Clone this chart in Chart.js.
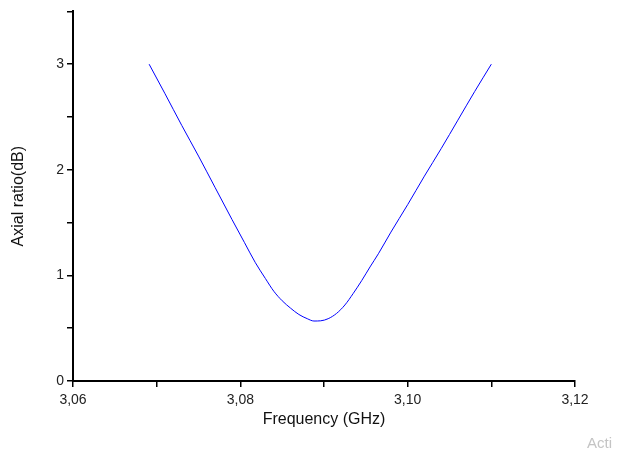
<!DOCTYPE html>
<html>
<head>
<meta charset="utf-8">
<script src="https://cdn.jsdelivr.net/npm/chart.js@4/dist/chart.umd.min.js"></script>
<style>
  html, body { margin: 0; padding: 0; background: #fff; overflow: hidden; }
  .chart-container { position: relative; width: 618px; height: 454px; }
</style>
</head>
<body>
<div class="chart-container">
  <canvas id="chart" width="618" height="454"></canvas>
</div>
<script>
// frequency (GHz) and axial ratio (dB)
const frequency = [
  3.0691, 3.0710, 3.0730, 3.0750, 3.0770, 3.0790, 3.0805, 3.0818, 3.0830,
  3.0840, 3.0850, 3.0860, 3.0870, 3.0880, 3.0888, 3.0896, 3.0905, 3.0915,
  3.0925, 3.0935, 3.0945, 3.0955, 3.0965, 3.0980, 3.1000, 3.1020, 3.1040,
  3.1060, 3.1080, 3.1100
];
const axialRatio = [
  3.00, 2.72, 2.42, 2.13, 1.83, 1.53, 1.31, 1.12, 0.97,
  0.85, 0.76, 0.69, 0.63, 0.59, 0.568, 0.57, 0.59, 0.64,
  0.72, 0.83, 0.95, 1.08, 1.205, 1.41, 1.67, 1.94, 2.20,
  2.47, 2.74, 3.00
];
const xTickLabels = ['3,06', '3,08', '3,10', '3,12'];
const yTickLabels = ['0', '1', '2', '3'];

const points = frequency.map((f, i) => ({ x: f, y: axialRatio[i] }));

const watermark = {
  id: 'watermark',
  afterDraw(chart) {
    const ctx = chart.ctx;
    ctx.save();
    ctx.fillStyle = '#c4c4c4';
    ctx.font = '15px "Liberation Sans", Arial, sans-serif';
    ctx.textBaseline = 'alphabetic';
    ctx.fillText('Acti', 587, 448);
    ctx.restore();
  }
};

const ctx = document.getElementById('chart').getContext('2d');
new Chart(ctx, {
  type: 'line',
  data: {
    datasets: [{
      label: 'Axial ratio',
      data: points,
      borderColor: '#0000ff',
      borderWidth: 1,
      pointRadius: 0,
      fill: false,
      cubicInterpolationMode: 'monotone'
    }]
  },
  options: {
    responsive: false,
    animation: false,
    devicePixelRatio: 1,
    layout: { padding: { left: 9, top: 10, right: 43, bottom: 0 } },
    plugins: { legend: { display: false }, tooltip: { enabled: false } },
    scales: {
      x: {
        type: 'linear',
        min: 3.06,
        max: 3.12,
        afterFit: s => { s.height = 73; },
        afterBuildTicks: s => {
          s.ticks = [];
          for (let i = 0; i <= 6; i++) s.ticks.push({ value: 3.06 + i * 0.01 });
        },
        border: { color: '#000', width: 2 },
        grid: { drawOnChartArea: false, drawTicks: true, tickLength: 6, color: '#000', lineWidth: 1.5 },
        ticks: {
          autoSkip: false,
          maxRotation: 0,
          padding: 5,
          color: '#222',
          font: { family: '"Liberation Sans", Arial, sans-serif', size: 14 },
          callback: (v, i) => (i % 2 === 0 ? xTickLabels[i / 2] : '')
        },
        title: {
          display: true,
          text: 'Frequency (GHz)',
          color: '#111',
          font: { family: '"Liberation Sans", Arial, sans-serif', size: 16 },
          padding: { top: 0, bottom: 25 }
        }
      },
      y: {
        min: 0,
        max: 3.5,
        afterFit: s => { s.width = 64; },
        afterBuildTicks: s => {
          s.ticks = [];
          for (let i = 0; i <= 7; i++) s.ticks.push({ value: i * 0.5 });
        },
        border: { color: '#000', width: 2 },
        grid: { drawOnChartArea: false, drawTicks: true, tickLength: 6, color: '#000', lineWidth: 1.5 },
        ticks: {
          autoSkip: false,
          padding: 3,
          color: '#222',
          font: { family: '"Liberation Sans", Arial, sans-serif', size: 14 },
          callback: (v, i) => (i % 2 === 0 && i / 2 < yTickLabels.length ? yTickLabels[i / 2] : '')
        },
        title: {
          display: true,
          text: 'Axial ratio(dB)',
          color: '#111',
          font: { family: '"Liberation Sans", Arial, sans-serif', size: 16 },
          padding: { top: 0, bottom: 0 }
        }
      }
    }
  },
  plugins: [watermark]
});
</script>
</body>
</html>
